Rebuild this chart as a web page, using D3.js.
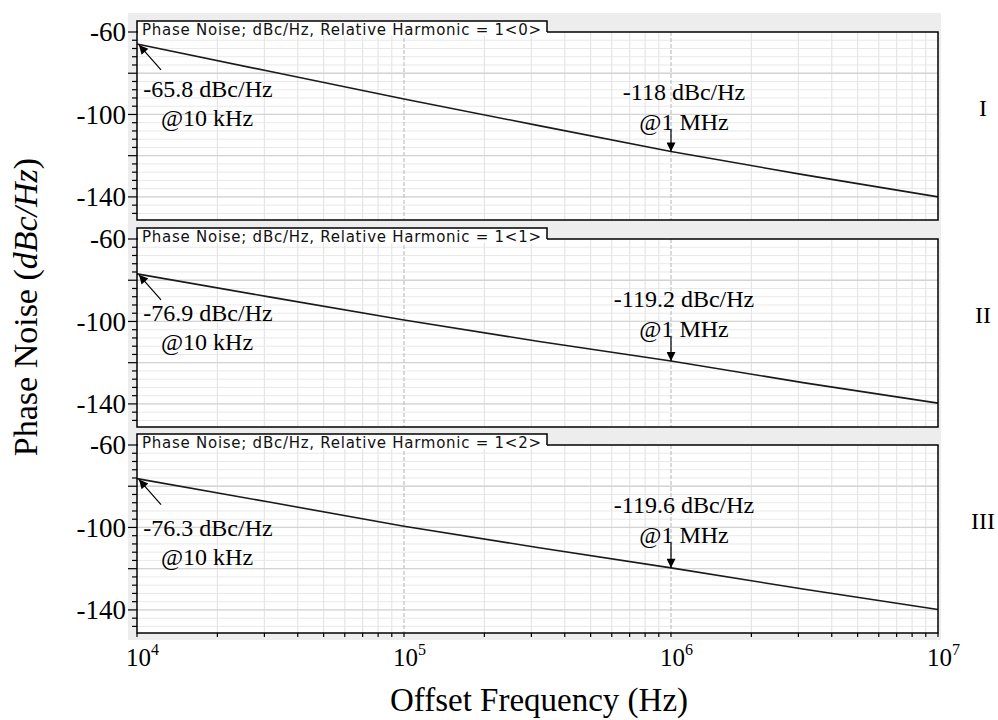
<!DOCTYPE html>
<html>
<head>
<meta charset="utf-8">
<script src="https://cdn.jsdelivr.net/npm/d3@7"></script>
<style>
  html, body { margin: 0; padding: 0; background: #fff; }
  svg { display: block; }
</style>
</head>
<body>
<div id="chart"></div>
<script>
// offset frequencies (Hz) read at decade / half-decade points
const freqs = [1e4, 31623, 1e5, 316228, 1e6, 3162278, 1e7];

// phase noise per harmonic panel (dBc/Hz)
const noise0 = [-65.8, -79.2, -92.5, -105.3, -118.0, -129.3, -140.0];
const noise1 = [-76.9, -88.2, -99.3, -109.6, -119.2, -129.8, -139.6];
const noise2 = [-76.3, -87.8, -99.4, -109.7, -119.6, -130.0, -139.8];

const harmonics = ["1<0>", "1<1>", "1<2>"];
const panelNames = ["I", "II", "III"];
const lowNotes = ["-65.8 dBc/Hz", "-76.9 dBc/Hz", "-76.3 dBc/Hz"];
const highNotes = ["-118 dBc/Hz", "-119.2 dBc/Hz", "-119.6 dBc/Hz"];
const yTickLabels = [-60, -100, -140];
const xTickLabels = [4, 5, 6, 7];

const series = [noise0, noise1, noise2];

const width = 998;
const height = 720;
const left = 137;
const right = 938;
const panelTops = [32, 239, 445];
const panelH = 188;
const serif = "'Liberation Serif', 'Times New Roman', serif";

const svg = d3.select("#chart")
  .append("svg")
  .attr("width", width)
  .attr("height", height)
  .attr("viewBox", [0, 0, width, height]);

const x = d3.scaleLog().domain([1e4, 1e7]).range([left, right]);

// gray frame behind all three panels
svg.append("rect")
  .attr("x", 128)
  .attr("y", 13)
  .attr("width", 941 - 128)
  .attr("height", 640 - 13)
  .attr("fill", "#ededed");

const line = d3.line();

series.forEach((values, i) => {
  const top = panelTops[i];
  const y = d3.scaleLinear().domain([-60, -151.2]).range([top, top + panelH]);
  const g = svg.append("g");

  // plot area
  g.append("rect")
    .attr("x", left)
    .attr("y", top)
    .attr("width", right - left)
    .attr("height", panelH)
    .attr("fill", "#fff");

  // minor horizontal grid (every 4 dB)
  g.selectAll(".hminor")
    .data(d3.range(-64, -151, -4))
    .join("line")
    .attr("x1", left).attr("x2", right)
    .attr("y1", (d) => y(d)).attr("y2", (d) => y(d))
    .attr("stroke", "#e9e9e9")
    .attr("stroke-width", 1);

  // minor vertical grid
  g.selectAll(".vminor")
    .data(x.ticks().filter((d) => Math.abs(Math.log10(d) % 1) > 1e-6))
    .join("line")
    .attr("x1", (d) => x(d)).attr("x2", (d) => x(d))
    .attr("y1", top).attr("y2", top + panelH)
    .attr("stroke", "#e6e6e6")
    .attr("stroke-width", 1.2);

  // major horizontal grid (every 20 dB)
  g.selectAll(".hmajor")
    .data([-80, -100, -120, -140])
    .join("line")
    .attr("x1", left).attr("x2", right)
    .attr("y1", (d) => y(d)).attr("y2", (d) => y(d))
    .attr("stroke", "#d4d4d4")
    .attr("stroke-width", 1.3);

  // decade lines, dashed
  g.selectAll(".vmajor")
    .data([1e5, 1e6])
    .join("line")
    .attr("x1", (d) => x(d)).attr("x2", (d) => x(d))
    .attr("y1", top).attr("y2", top + panelH)
    .attr("stroke", "#c6c6c6")
    .attr("stroke-dasharray", "4,2")
    .attr("stroke-width", 1.3);

  // curve
  g.append("path")
    .datum(values.map((v, k) => [x(freqs[k]), y(v)]))
    .attr("d", line)
    .attr("fill", "none")
    .attr("stroke", "#1a1a1a")
    .attr("stroke-width", 1.6);

  // border
  g.append("rect")
    .attr("x", left)
    .attr("y", top)
    .attr("width", right - left)
    .attr("height", panelH)
    .attr("fill", "none")
    .attr("stroke", "#000")
    .attr("stroke-width", 1.5);

  // title tab
  const tabRight = 547;
  g.append("rect")
    .attr("x", left + 1)
    .attr("y", top - 11)
    .attr("width", tabRight - left - 1)
    .attr("height", 15)
    .attr("fill", "#fff");
  g.append("path")
    .attr("d", `M${left},${top} V${top - 11} H${tabRight} V${top}`)
    .attr("fill", "none")
    .attr("stroke", "#000")
    .attr("stroke-width", 1.5);
  g.append("text")
    .attr("x", left + 5)
    .attr("y", top + 2.5)
    .attr("font-family", "'DejaVu Sans', sans-serif")
    .attr("font-size", 15)
    .attr("textLength", 399)
    .attr("lengthAdjust", "spacing")
    .attr("fill", "#111")
    .text(`Phase Noise; dBc/Hz, Relative Harmonic = ${harmonics[i]}`);

  // y ticks
  g.selectAll(".yminor")
    .data(d3.range(-64, -151, -4).filter((d) => d % 20 !== 0))
    .join("line")
    .attr("x1", left - 5).attr("x2", left)
    .attr("y1", (d) => y(d)).attr("y2", (d) => y(d))
    .attr("stroke", "#000")
    .attr("stroke-width", 1.2);
  g.selectAll(".ymajor")
    .data([-60, -80, -100, -120, -140])
    .join("line")
    .attr("x1", left - 9).attr("x2", left)
    .attr("y1", (d) => y(d)).attr("y2", (d) => y(d))
    .attr("stroke", "#000")
    .attr("stroke-width", 1.2);
  g.selectAll(".ylabel")
    .data(yTickLabels)
    .join("text")
    .attr("x", 126)
    .attr("y", (d) => y(d))
    .attr("dy", "0.34em")
    .attr("text-anchor", "end")
    .attr("font-family", serif)
    .attr("font-size", 27)
    .text((d) => d);

  // panel name
  g.append("text")
    .attr("x", 983)
    .attr("y", top + 84)
    .attr("text-anchor", "middle")
    .attr("font-family", serif)
    .attr("font-size", 24)
    .text(panelNames[i]);

  // annotations
  const defsId = `head${i}`;
  const mk = g.append("defs").append("marker")
    .attr("id", defsId)
    .attr("viewBox", "0 0 10 10")
    .attr("refX", 10).attr("refY", 5)
    .attr("markerWidth", 11).attr("markerHeight", 9)
    .attr("markerUnits", "userSpaceOnUse")
    .attr("orient", "auto");
  mk.append("path").attr("d", "M0,0 L10,5 L0,10 z").attr("fill", "#000");

  const lowOffsets = [65, 82, 91];
  const x0 = x(freqs[0]), y0 = y(values[0]);
  g.append("line")
    .attr("x1", x0 + 24).attr("y1", y0 + 26)
    .attr("x2", x0 + 2).attr("y2", y0 + 1)
    .attr("stroke", "#000")
    .attr("stroke-width", 1.2)
    .attr("marker-end", `url(#${defsId})`);
  g.append("text")
    .attr("x", 208).attr("y", top + lowOffsets[i])
    .attr("text-anchor", "middle")
    .attr("font-family", serif).attr("font-size", 24)
    .text(lowNotes[i]);
  g.append("text")
    .attr("x", 207).attr("y", top + lowOffsets[i] + 29)
    .attr("text-anchor", "middle")
    .attr("font-family", serif).attr("font-size", 24)
    .text("@10 kHz");

  const x6 = x(freqs[4]), y6 = y(values[4]);
  g.append("line")
    .attr("x1", x6).attr("y1", top + 98)
    .attr("x2", x6).attr("y2", y6)
    .attr("stroke", "#000")
    .attr("stroke-width", 1.2)
    .attr("marker-end", `url(#${defsId})`);
  g.append("text")
    .attr("x", 684).attr("y", top + 68)
    .attr("text-anchor", "middle")
    .attr("font-family", serif).attr("font-size", 24)
    .text(highNotes[i]);
  g.append("text")
    .attr("x", 684).attr("y", top + 98)
    .attr("text-anchor", "middle")
    .attr("font-family", serif).attr("font-size", 24)
    .text("@1 MHz");
});

// bottom x ticks
const bottom = panelTops[2] + panelH;
svg.append("g")
  .selectAll("line")
  .data(x.ticks())
  .join("line")
  .attr("x1", (d) => x(d)).attr("x2", (d) => x(d))
  .attr("y1", bottom).attr("y2", bottom + 4)
  .attr("stroke", "#000")
  .attr("stroke-width", 1.2);

const xl = svg.append("g")
  .selectAll("text")
  .data(xTickLabels)
  .join("text")
  .attr("x", (d) => x(Math.pow(10, d)) - 11)
  .attr("y", 666)
  .attr("font-family", serif)
  .attr("font-size", 25);
xl.append("tspan").text("10");
xl.append("tspan")
  .attr("dy", -11)
  .attr("font-size", 16)
  .text((d) => d);

// axis titles
svg.append("text")
  .attr("x", 539)
  .attr("y", 711)
  .attr("text-anchor", "middle")
  .attr("font-family", serif)
  .attr("font-size", 33)
  .text("Offset Frequency (Hz)");

const yt = svg.append("text")
  .attr("transform", "translate(37,307) rotate(-90)")
  .attr("text-anchor", "middle")
  .attr("font-family", serif)
  .attr("font-size", 34);
yt.append("tspan").text("Phase Noise (");
yt.append("tspan").attr("font-style", "italic").text("dBc/Hz");
yt.append("tspan").text(")");
</script>
</body>
</html>
